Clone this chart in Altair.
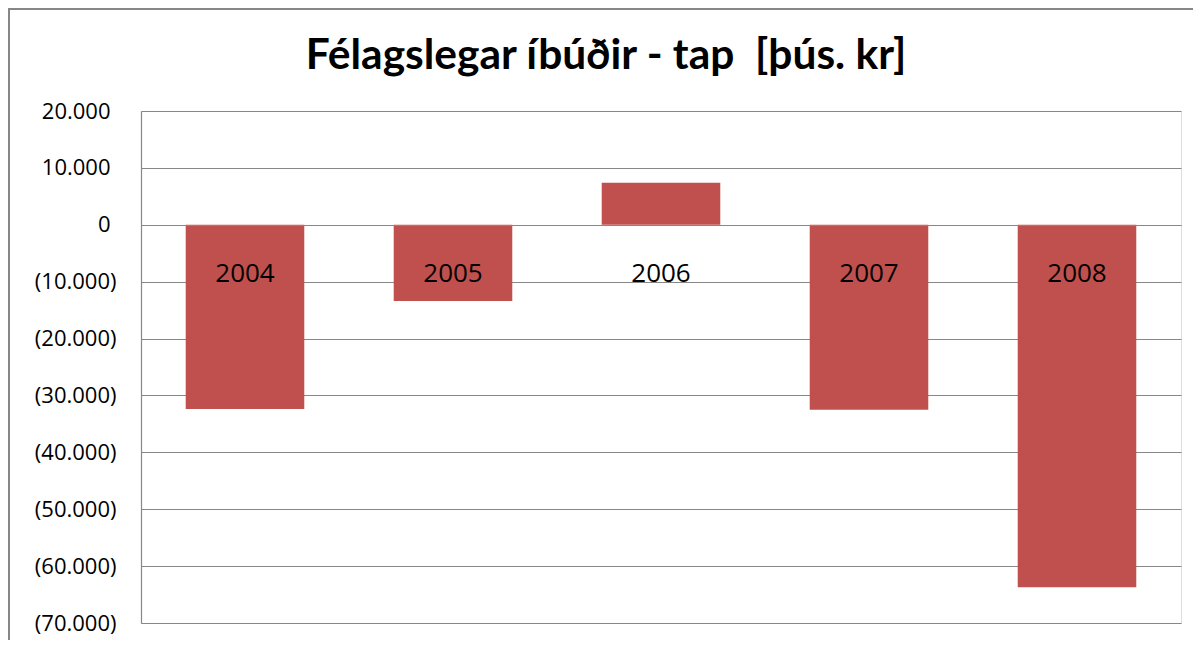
import altair as alt
import pandas as pd

years = ["2004", "2005", "2006", "2007", "2008"]
values = [-32400, -13400, 7400, -32500, -63700]
y_ticks = [20000, 10000, 0, -10000, -20000, -30000, -40000, -50000, -60000, -70000]
title_text = "Félagslegar íbúðir - tap \u00a0[þús. kr]"

df = pd.DataFrame({"year": years, "value": values})

FONT = "Open Sans"
GRID = "#878787"

label_expr = (
    "datum.value < 0 ? '(' + replace(format(-datum.value, ','), ',', '.') + ')' : "
    "replace(format(datum.value, ','), ',', '.')"
)

bars = alt.Chart(df).mark_bar(color="#C0504D").encode(
    x=alt.X(
        "year:N",
        sort=years,
        scale=alt.Scale(paddingInner=0.43, paddingOuter=0.215),
        axis=alt.Axis(
            title=None,
            orient="bottom",
            offset=-398,
            ticks=False,
            tickSize=0,
            domain=True,
            domainColor=GRID,
            domainWidth=1.2,
            labelAngle=0,
            labelFont=FONT,
            labelFontSize=26,
            labelColor="#000000",
            labelBaseline="middle",
            labelPadding=48,
            zindex=1,
            grid=False,
        ),
    ),
    y=alt.Y(
        "value:Q",
        scale=alt.Scale(domain=[-70000, 20000], nice=False, zero=False),
        axis=alt.Axis(
            title=None,
            values=y_ticks,
            labelExpr=label_expr,
            ticks=False,
            tickSize=0,
            labelPadding={"condition": {"test": "datum.value >= 0", "value": 31}, "value": 25},
            labelFont=FONT,
            labelFontSize=22,
            labelColor="#000000",
            domain=True,
            domainColor=GRID,
            domainWidth=1.2,
            grid=True,
            gridColor=GRID,
            gridWidth=1.2,
            zindex=0,
        ),
    ),
)

deco_df = pd.DataFrame({"t": [title_text]})
border = alt.Chart(deco_df).mark_rect(
    fill=None, fillOpacity=0, stroke=GRID, strokeWidth=2
).encode(
    x=alt.value(-132), x2=alt.value(1200), y=alt.value(-102), y2=alt.value(700)
)

title = alt.Chart(deco_df).mark_text(
    font="Lato", fontSize=42.5, fontWeight="bold", color="#000000",
    align="center", baseline="alphabetic"
).encode(
    text="t:N", x=alt.value(465), y=alt.value(-42)
)

chart = alt.layer(border, bars, title).properties(
    width=1040,
    height=512,
    autosize=alt.AutoSizeParams(type="none"),
    padding={"left": 133, "top": 103, "right": 12, "bottom": 17},
).configure_view(stroke=None).configure(background="white")

chart.save("out.html", embed_options={"renderer": "svg", "actions": False})
